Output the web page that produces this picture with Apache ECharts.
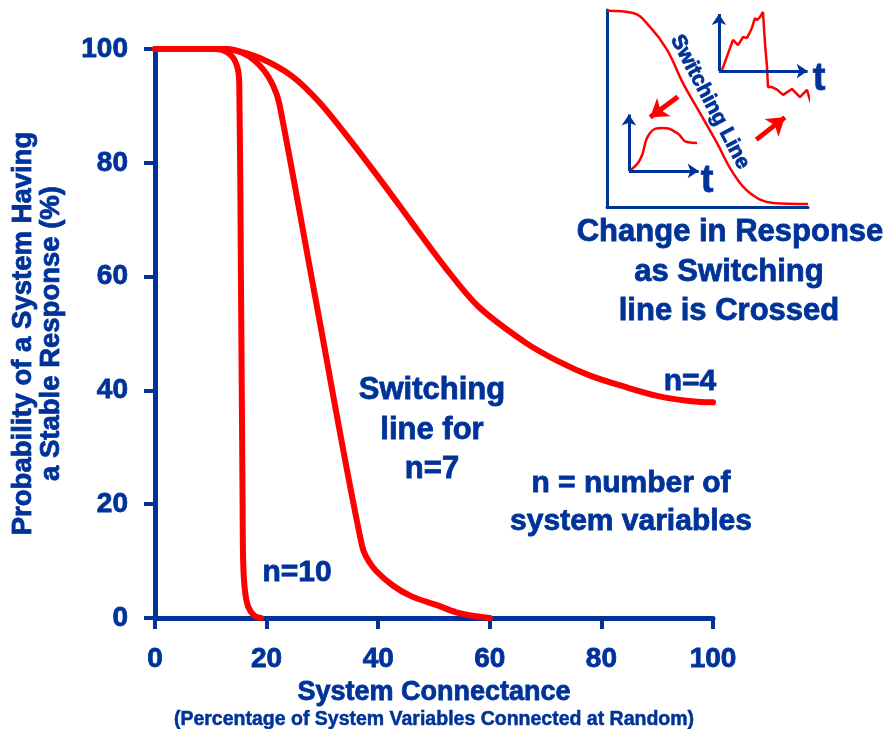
<!DOCTYPE html>
<html>
<head>
<meta charset="utf-8">
<script src="https://cdn.jsdelivr.net/npm/echarts@6/dist/echarts.min.js"></script>
<style>
  html, body { margin: 0; padding: 0; background: #fff; }
  #chart { width: 890px; height: 729px; }
</style>
</head>
<body>
<div id="chart"></div>
<script>
// Main curves: [connectance %, probability %]
const n4Curve = [[0, 100], [10, 100], [14, 99.8], [18.8, 98.4], [24.6, 95.2], [29.5, 90.6], [34.8, 84.2],
  [40.7, 76.6], [46.1, 69.4], [52.1, 61.5], [58, 54.7], [66.4, 48.4], [72.3, 45.1], [78.2, 42.5],
  [84.3, 40.6], [90.2, 39], [96.1, 38.1], [100, 37.9]];
const n7Curve = [[0, 100], [13, 100], [16.5, 98.9], [19.3, 96.5], [21.2, 93.5], [22.3, 90.3], [28.6, 57],
  [37.1, 12.7], [39, 9], [42.5, 5.8], [46, 3.8], [50.4, 2.3], [54, 1], [57.5, 0.3], [60, 0]];
const n10Curve = [[0, 100], [11, 100], [13.5, 99], [14.7, 97], [15.1, 94], [15.4, 60], [15.7, 20],
  [15.8, 10], [16.1, 5], [16.7, 2], [17.8, 0.4], [19, 0]];

// Inset sketch, in its own 0-100 box
const insetSwitch = [[0, 99.6], [12.9, 98.5], [21.4, 91.4], [29.9, 79.7], [37.8, 62.9], [46.3, 47.7],
  [54.7, 32.5], [62.7, 17.3], [71.1, 7.1], [82.6, 2], [100, 1.5]];
const insetWave = [[10.9, 18.3], [16.4, 23.9], [21.4, 37.6], [27.9, 40.1], [34.8, 37.6], [39.8, 33], [44.8, 32.5]];
const insetJagged = [[57.2, 69.5], [62.7, 84.8], [65.2, 82.2], [67.7, 86.3], [69.7, 85.8], [72.1, 90.9],
  [73.6, 95.9], [74.6, 94.9], [76.1, 96.4], [77.6, 99], [78.6, 83.2], [79.6, 71.1], [80.1, 60.9],
  [82.1, 60.9], [84.6, 59.6], [87.6, 56.9], [92, 59.9], [96, 55.8], [99.5, 59.4], [101, 54.3], [103.5, 46.7]];
const insetMiniAxes = [
  [[10.9, 18.3], [10.9, 47]], [[10.9, 18.3], [45.6, 18.3]],
  [[55.7, 69], [55.7, 98]], [[55.7, 69], [99.8, 69]]
];
const insetArrows = [[[35.3, 56], [21.5, 45.5]], [[74.3, 34.2], [88.5, 45.5]]];

const BLUE = '#00339a';
const RED = '#ff0000';
const FONT = '"Liberation Sans", Arial, sans-serif';
const heavy = { textBorderColor: BLUE, textBorderWidth: 0.8 };

const chart = echarts.init(document.getElementById('chart'), null, { renderer: 'canvas' });

function curve(name, data) {
  return {
    name, type: 'line', data, xAxisIndex: 0, yAxisIndex: 0,
    showSymbol: false, smooth: 0.3, clip: false,
    lineStyle: { color: RED, width: 6, cap: 'round', join: 'round' }, z: 3
  };
}

function text(str, x, y, size, extra) {
  return Object.assign({
    type: 'text', x, y, z: 10,
    style: {
      text: str, fill: BLUE, font: `bold ${size}px ${FONT}`, align: 'center', verticalAlign: 'middle',
      stroke: BLUE, lineWidth: 0.8
    }
  }, extra || {});
}

const labelStyle = Object.assign({ color: BLUE, fontSize: 28, fontWeight: 'bold', fontFamily: FONT }, heavy);

chart.setOption({
  animation: false,
  backgroundColor: '#fff',
  grid: [
    { left: 155, right: 177, top: 49, bottom: 111, outerBoundsMode: 'none' },
    { left: 607, top: 10, width: 201, height: 197, outerBoundsMode: 'none' }
  ],
  xAxis: [{
    gridIndex: 0, type: 'value', min: 0, max: 100, interval: 20,
    axisLine: { lineStyle: { color: BLUE, width: 5 } },
    axisTick: { length: 11, lineStyle: { color: BLUE, width: 4 } },
    axisLabel: Object.assign({ margin: 27 }, labelStyle),
    splitLine: { show: false },
    name: '{a|System Connectance}\n{b|(Percentage of System Variables Connected at Random)}',
    nameLocation: 'middle', nameGap: 57,
    nameTextStyle: {
      color: BLUE, fontFamily: FONT,
      rich: {
        a: Object.assign({ fontSize: 27, fontWeight: 'bold', color: BLUE, fontFamily: FONT, lineHeight: 30 }, heavy),
        b: { fontSize: 19.5, fontWeight: 'bold', color: BLUE, fontFamily: FONT, lineHeight: 24,
          textBorderColor: BLUE, textBorderWidth: 0.5 }
      }
    }
  }, {
    gridIndex: 1, type: 'value', min: 0, max: 100,
    axisLine: { lineStyle: { color: BLUE, width: 3 } },
    axisTick: { show: false }, axisLabel: { show: false }, splitLine: { show: false }
  }],
  yAxis: [{
    gridIndex: 0, type: 'value', min: 0, max: 100, interval: 20,
    axisLine: { show: true, lineStyle: { color: BLUE, width: 5 } },
    axisTick: { show: true, length: 11, lineStyle: { color: BLUE, width: 4 } },
    axisLabel: Object.assign({ margin: 27 }, labelStyle),
    splitLine: { show: false },
    name: 'Probability of a System Having\na Stable Response (%)',
    nameLocation: 'middle', nameRotate: 90, nameGap: 90,
    nameTextStyle: Object.assign({ color: BLUE, fontSize: 27.5, fontWeight: 'bold', fontFamily: FONT, lineHeight: 28 }, heavy)
  }, {
    gridIndex: 1, type: 'value', min: 0, max: 100,
    axisLine: { show: true, lineStyle: { color: BLUE, width: 3 } },
    axisTick: { show: false }, axisLabel: { show: false }, splitLine: { show: false }
  }],
  series: [
    curve('n=4', n4Curve),
    curve('n=7', n7Curve),
    curve('n=10', n10Curve),
    {
      type: 'line', data: insetSwitch, xAxisIndex: 1, yAxisIndex: 1, showSymbol: false,
      smooth: 0.4, clip: false, lineStyle: { color: RED, width: 2.5 }
    },
    {
      type: 'line', data: insetWave, xAxisIndex: 1, yAxisIndex: 1, showSymbol: false,
      smooth: 0.5, clip: false, lineStyle: { color: RED, width: 2.5 }
    },
    {
      type: 'line', data: insetJagged, xAxisIndex: 1, yAxisIndex: 1, showSymbol: false,
      clip: false, lineStyle: { color: RED, width: 2.5 }
    },
    {
      type: 'lines', coordinateSystem: 'cartesian2d', xAxisIndex: 1, yAxisIndex: 1,
      symbol: ['none', 'arrow'], symbolSize: 11,
      lineStyle: { color: BLUE, width: 3, opacity: 1, curveness: 0 },
      data: insetMiniAxes.map(c => ({ coords: c })), z: 4
    },
    {
      type: 'lines', coordinateSystem: 'cartesian2d', xAxisIndex: 1, yAxisIndex: 1,
      symbol: ['none', 'arrow'], symbolSize: 17,
      lineStyle: { color: RED, width: 5, opacity: 1, curveness: 0 },
      data: insetArrows.map(c => ({ coords: c })), z: 4
    }
  ],
  graphic: [
    text('t', 707, 182, 38),
    text('t', 819, 80, 38),
    text('Switching Line', 710, 102, 21, { rotation: -1.089 }),
    text('Change in Response', 730, 232, 31),
    text('as Switching', 729, 272, 31),
    text('line is Crossed', 729, 311, 31),
    text('Switching', 432, 390, 31),
    text('line for', 432, 430, 31),
    text('n=7', 432, 469, 31),
    text('n = number of', 631, 484, 30),
    text('system variables', 631, 522, 30),
    text('n=4', 690, 382, 30),
    text('n=10', 297, 573, 30)
  ]
});
</script>
</body>
</html>
